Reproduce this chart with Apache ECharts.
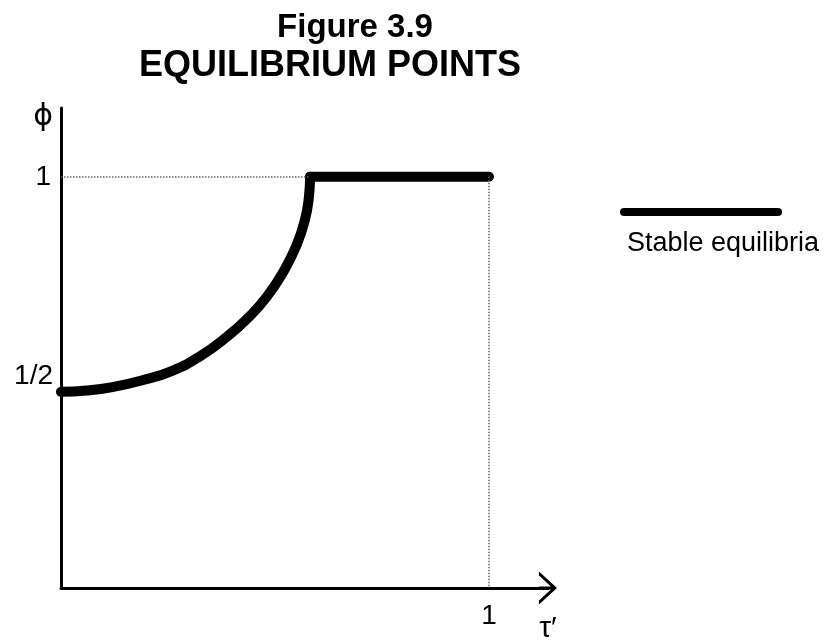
<!DOCTYPE html>
<html>
<head>
<meta charset="utf-8">
<script src="https://cdn.jsdelivr.net/npm/echarts@6/dist/echarts.min.js"></script>
<style>
  html, body { margin: 0; padding: 0; background: #fff; }
  #chart { width: 823px; height: 644px; }
</style>
</head>
<body>
<div id="chart"></div>
<script>
// values
const curveX = [0, 0.06, 0.12, 0.19, 0.26, 0.325, 0.39, 0.435, 0.48, 0.52, 0.55, 0.57, 0.579, 0.582]
const curveY = [0.5, 0.503, 0.511, 0.527, 0.549, 0.583, 0.63, 0.67, 0.72, 0.78, 0.84, 0.9, 0.95, 1]
const flatX = [0.582, 1]
const flatY = [1, 1]
const xTicks = [1]
const xTickLabels = ['1']
const yTicks = [0.5, 1]
const yTickLabels = ['1/2', '1']
const seriesName = 'Stable equilibria'

const chart = echarts.init(document.getElementById('chart'))

const labelFont = 'Liberation Sans Narrow, Liberation Sans, Arial, sans-serif'
const titleFont = 'Liberation Sans, Arial, sans-serif'
// open chevron at the end of the x axis
const arrowPath = 'path://M0,18 L16.5,0 L33,18 L29,18 L16.5,4.5 L4,18 Z M15,2 L18,2 L18,18 L15,18 Z'

const zip = (xs, ys) => xs.map((x, i) => [x, ys[i]])

chart.setOption({
  animation: false,
  title: [
    {
      text: 'Figure 3.9',
      left: 350,
      top: 6,
      textAlign: 'center',
      textStyle: { fontFamily: titleFont, fontWeight: 'bold', fontSize: 33, color: '#000' }
    },
    {
      text: 'EQUILIBRIUM POINTS',
      left: 325,
      top: 43,
      textAlign: 'center',
      textStyle: { fontFamily: titleFont, fontWeight: 'bold', fontSize: 36, color: '#000' }
    },
    {
      text: seriesName,
      left: 622,
      top: 225,
      textStyle: { fontFamily: labelFont, fontWeight: 'normal', fontSize: 27, color: '#000' }
    }
  ],
  legend: {
    left: 615,
    top: 203,
    data: [seriesName],
    icon: 'path://M4,0 L158,0 A4,4 0 0 1 158,8 L4,8 A4,4 0 0 1 4,0 Z',
    itemWidth: 162,
    itemHeight: 8,
    formatter: () => '',
    selectedMode: false
  },
  grid: { left: 61, top: 108, right: 275, bottom: 51 },
  xAxis: {
    type: 'value',
    min: 0,
    max: 1.138,
    name: 'τ′',
    nameLocation: 'end',
    nameGap: 0,
    nameTextStyle: {
      fontFamily: labelFont,
      fontSize: 30,
      color: '#000',
      verticalAlign: 'top',
      align: 'center',
      padding: [26, 0, 0, 0]
    },
    splitLine: { show: false },
    axisTick: { show: false },
    axisLine: {
      lineStyle: { color: '#000', width: 3 },
      symbol: ['none', arrowPath],
      symbolSize: [33, 18]
    },
    axisLabel: {
      customValues: xTicks,
      formatter: (v) => xTickLabels[xTicks.indexOf(v)],
      margin: 14,
      fontFamily: labelFont,
      fontSize: 28,
      color: '#000'
    }
  },
  yAxis: {
    type: 'value',
    min: 0.044,
    max: 1.16,
    name: 'ϕ',
    nameLocation: 'end',
    nameGap: -24,
    nameTextStyle: {
      fontFamily: 'DejaVu Sans, sans-serif',
      fontSize: 30,
      color: '#000',
      align: 'right',
      padding: [0, 8, 0, 0]
    },
    splitLine: { show: false },
    axisTick: { show: false },
    axisLine: { show: true, lineStyle: { color: '#000', width: 3 } },
    axisLabel: {
      customValues: yTicks,
      formatter: (v) => '{' + (v === 0.5 ? 'h' : 'o') + '|' + yTickLabels[yTicks.indexOf(v)] + '}',
      margin: 8,
      color: '#000',
      rich: {
        h: { fontFamily: labelFont, fontSize: 28, color: '#000', padding: [0, 0, 32, 0] },
        o: { fontFamily: labelFont, fontSize: 28, color: '#000', padding: [0, 2, 0, 0] }
      }
    }
  },
  series: [
    {
      name: seriesName,
      type: 'line',
      data: zip(curveX, curveY),
      smooth: 0.5,
      showSymbol: false,
      color: '#000',
      lineStyle: { color: '#000', width: 10, cap: 'round', join: 'round' },
      markLine: {
        silent: true,
        symbol: 'none',
        label: { show: false },
        lineStyle: { color: '#666', type: 'dotted', width: 1.5 },
        data: [
          [{ coord: [0, 1] }, { coord: [flatX[0], 1] }],
          [{ coord: [1, 1] }, { coord: [1, 0.044] }]
        ]
      }
    },
    {
      name: seriesName,
      type: 'line',
      data: zip(flatX, flatY),
      showSymbol: false,
      color: '#000',
      lineStyle: { color: '#000', width: 10, cap: 'round', join: 'round' }
    }
  ]
})
</script>
</body>
</html>
